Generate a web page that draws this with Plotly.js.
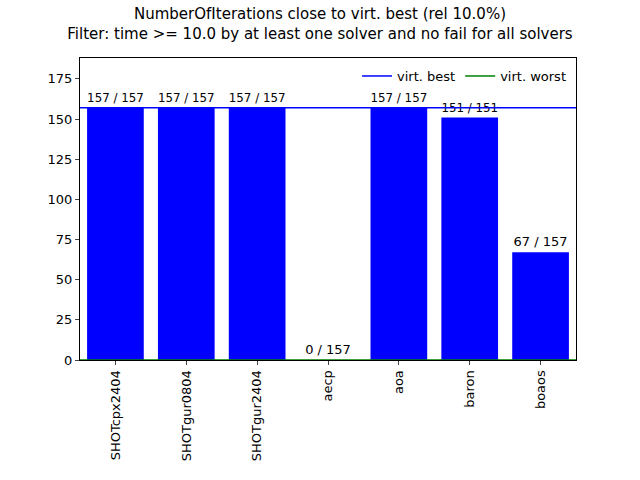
<!DOCTYPE html>
<html>
<head>
<script src="https://cdn.plot.ly/plotly-3.0.1.min.js"></script>
</head>
<body style="margin:0">
<div id="chart" style="width:640px;height:480px"></div>
<script>
var solvers = ["SHOTcpx2404", "SHOTgur0804", "SHOTgur2404", "aecp", "aoa", "baron", "boaos"];
var solved = [157, 157, 157, 0, 157, 151, 67];
var totals = [157, 157, 157, 157, 157, 151, 157];
var virtBest = 157;
var virtWorst = 0;

var labels = solved.map(function (v, i) { return v + " / " + totals[i]; });

var traces = [
    {
        type: "bar",
        x: solvers,
        y: solved,
        width: 0.8,
        marker: {color: "#0000ff"},
        text: labels,
        textposition: "outside",
        cliponaxis: false,
        textfont: {color: "black", size: 13},
        showlegend: false,
        hoverinfo: "none"
    },
    {
        type: "scatter", mode: "lines", name: "virt. best",
        x: [0, 1], y: [virtBest, virtBest], xaxis: "x2",
        line: {color: "#0000ff", width: 1.5}
    },
    {
        type: "scatter", mode: "lines", name: "virt. worst",
        x: [0, 1], y: [virtWorst, virtWorst], xaxis: "x2",
        line: {color: "#008000", width: 1.5}
    }
];

var layout = {
    width: 640, height: 480,
    margin: {l: 80, r: 64, t: 58, b: 120},
    font: {family: "DejaVu Sans", size: 12, color: "black"},
    title: {
        text: "NumberOfIterations close to virt. best (rel 10.0%)<br>Filter: time >= 10.0 by at least one solver and no fail for all solvers",
        font: {size: 15}, x: 0.5, y: 0.96, yanchor: "top"
    },
    xaxis: {
        type: "category", tickangle: -90, ticks: "outside", ticklen: 4,
        showline: true, mirror: true, linecolor: "black", linewidth: 1,
        range: [-0.5, 6.5], tickfont: {size: 13}
    },
    xaxis2: {overlaying: "x", range: [0, 1], visible: false},
    yaxis: {
        range: [0, 188], tickvals: [0, 25, 50, 75, 100, 125, 150, 175],
        ticks: "outside", ticklen: 4, showgrid: false, zeroline: false,
        showline: true, mirror: true, linecolor: "black", linewidth: 1,
        tickfont: {size: 13}
    },
    legend: {
        orientation: "h", x: 0.99, y: 0.99, xanchor: "right", yanchor: "top",
        font: {size: 13}, bgcolor: "rgba(255,255,255,0.8)"
    },
    plot_bgcolor: "white", paper_bgcolor: "white"
};

Plotly.newPlot("chart", traces, layout, {displayModeBar: false});
</script>
</body>
</html>
